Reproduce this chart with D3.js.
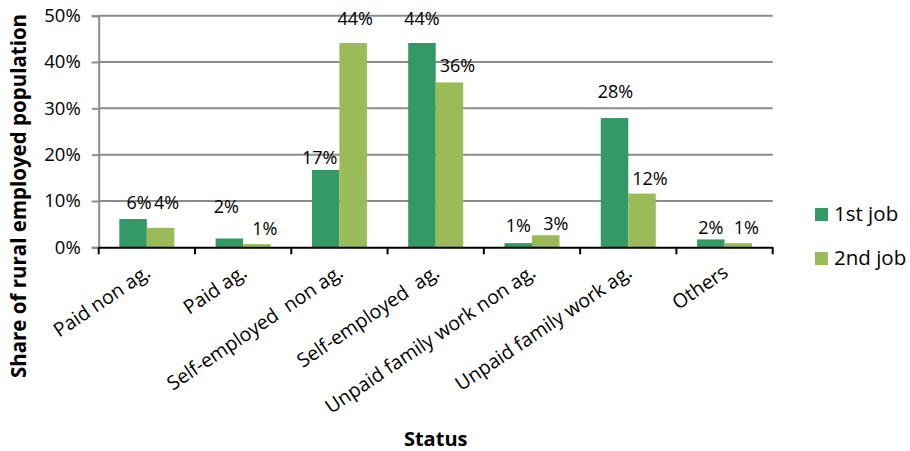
<!DOCTYPE html>
<html>
<head>
<meta charset="utf-8">
<script src="https://cdn.jsdelivr.net/npm/d3@7"></script>
<style>
  html, body { margin: 0; padding: 0; background: #fff; }
  svg { display: block; }
  text { font-family: "Open Sans", sans-serif; fill: #000; }
</style>
</head>
<body>
<svg id="chart" width="910" height="451"></svg>
<script>
// ---- data ----
const categories = ["Paid non ag.", "Paid ag.", "Self-employed  non ag.", "Self-employed  ag.",
                    "Unpaid family work non ag.", "Unpaid family work ag.", "Others"];
const seriesNames = ["1st job", "2nd job"];
const firstJob  = [6.1, 1.9, 16.7, 44.1, 0.9, 27.9, 1.7];
const secondJob = [4.2, 0.7, 44.1, 35.6, 2.6, 11.6, 0.9];
const yTicks = [0, 10, 20, 30, 40, 50];
const yTitle = "Share of rural employed population";
const xTitle = "Status";

// label nudges (layout only): horizontal shift and gap above bar top, in px
const labelDx  = [[6, -3, -6, 0, 0, 1, 0], [6, 8, 2, 8, 10, 8, 8]];
const labelGap = [[10, 25, 6, 18, 11, 20, 5], [19, 9, 18, 10, 5, 9, 9]];

const colors = ["#339966", "#9BBB59"];

// ---- layout ----
const svg = d3.select("#chart");
const plot = { left: 98.7, right: 772.7, top: 15.7, bottom: 247.3 };

const x = d3.scaleBand().domain(categories).range([plot.left, plot.right]).paddingInner(0).paddingOuter(0);
const x1 = d3.scaleBand().domain(seriesNames).range([0, x.bandwidth()]).paddingInner(0).paddingOuter(0.75);
const y = d3.scaleLinear().domain([0, 50]).range([plot.bottom, plot.top]);

// gridlines
svg.append("g")
  .selectAll("line")
  .data(yTicks.filter(d => d > 0))
  .join("line")
  .attr("x1", plot.left).attr("x2", plot.right)
  .attr("y1", d => y(d)).attr("y2", d => y(d))
  .attr("stroke", "#8c8c8c").attr("stroke-width", 2);

// y axis
const yAxis = svg.append("g")
  .attr("transform", `translate(${plot.left},0)`)
  .call(d3.axisLeft(y).tickValues(yTicks).tickFormat(d => d + "%").tickSize(7).tickPadding(11));
yAxis.select(".domain").attr("stroke", "#8c8c8c").attr("stroke-width", 2);
yAxis.selectAll(".tick line").attr("stroke", "#8c8c8c").attr("stroke-width", 2);
yAxis.selectAll(".tick text").style("font-size", "18.5px").style("font-family", "Open Sans, sans-serif").attr("fill", "#000");

// bars
const seriesData = [firstJob, secondJob];
const groups = svg.append("g").selectAll("g")
  .data(seriesNames)
  .join("g")
  .attr("fill", (d, i) => colors[i]);

groups.each(function(name, si) {
  d3.select(this).selectAll("rect")
    .data(seriesData[si])
    .join("rect")
    .attr("x", (d, i) => x(categories[i]) + x1(name))
    .attr("width", x1.bandwidth())
    .attr("y", d => y(d))
    .attr("height", d => y(0) - y(d));
});

// x axis
const xAxis = svg.append("g")
  .attr("transform", `translate(0,${plot.bottom})`)
  .call(d3.axisBottom(x).tickSizeOuter(0).tickSizeInner(0).tickFormat(""));
xAxis.select(".domain").attr("stroke", "#000").attr("stroke-width", 2);
xAxis.selectAll(".tick").remove();
// boundary ticks between categories
const boundaries = categories.map(c => x(c)).concat([x.range()[1]]);
xAxis.selectAll(".bt")
  .data(boundaries)
  .join("line")
  .attr("class", "bt")
  .attr("x1", d => d).attr("x2", d => d)
  .attr("y1", 0).attr("y2", 7)
  .attr("stroke", "#000").attr("stroke-width", 2);

// category labels (rotated)
svg.append("g").selectAll("text")
  .data(categories)
  .join("text")
  .attr("transform", d => `translate(${x(d) + x.bandwidth() / 2 + 5},${plot.bottom + 28}) rotate(-34)`)
  .attr("text-anchor", "end")
  .style("font-size", "19.5px")
  .style("white-space", "pre")
  .text(d => d);

// value labels
groups.each(function(name, si) {
  svg.append("g").selectAll("text")
    .data(seriesData[si])
    .join("text")
    .attr("x", (d, i) => x(categories[i]) + x1(name) + x1.bandwidth() / 2 + labelDx[si][i])
    .attr("y", (d, i) => y(d) - labelGap[si][i])
    .attr("text-anchor", "middle")
    .style("font-size", "18px")
    .text(d => Math.round(d) + "%");
});

// axis titles
svg.append("text")
  .attr("transform", `translate(26,196) rotate(-90)`)
  .attr("text-anchor", "middle")
  .style("font-size", "20.5px")
  .style("font-weight", "bold")
  .text(yTitle);

svg.append("text")
  .attr("x", (plot.left + plot.right) / 2)
  .attr("y", 446)
  .attr("text-anchor", "middle")
  .style("font-size", "20px")
  .style("font-weight", "bold")
  .text(xTitle);

// legend
const legend = svg.append("g").selectAll("g")
  .data(seriesNames)
  .join("g")
  .attr("transform", (d, i) => `translate(815,${208 + i * 44})`);
legend.append("rect").attr("width", 13).attr("height", 13).attr("fill", (d, i) => colors[i]);
legend.append("text").attr("x", 19).attr("y", 13).style("font-size", "20.5px").text(d => d);
</script>
</body>
</html>
